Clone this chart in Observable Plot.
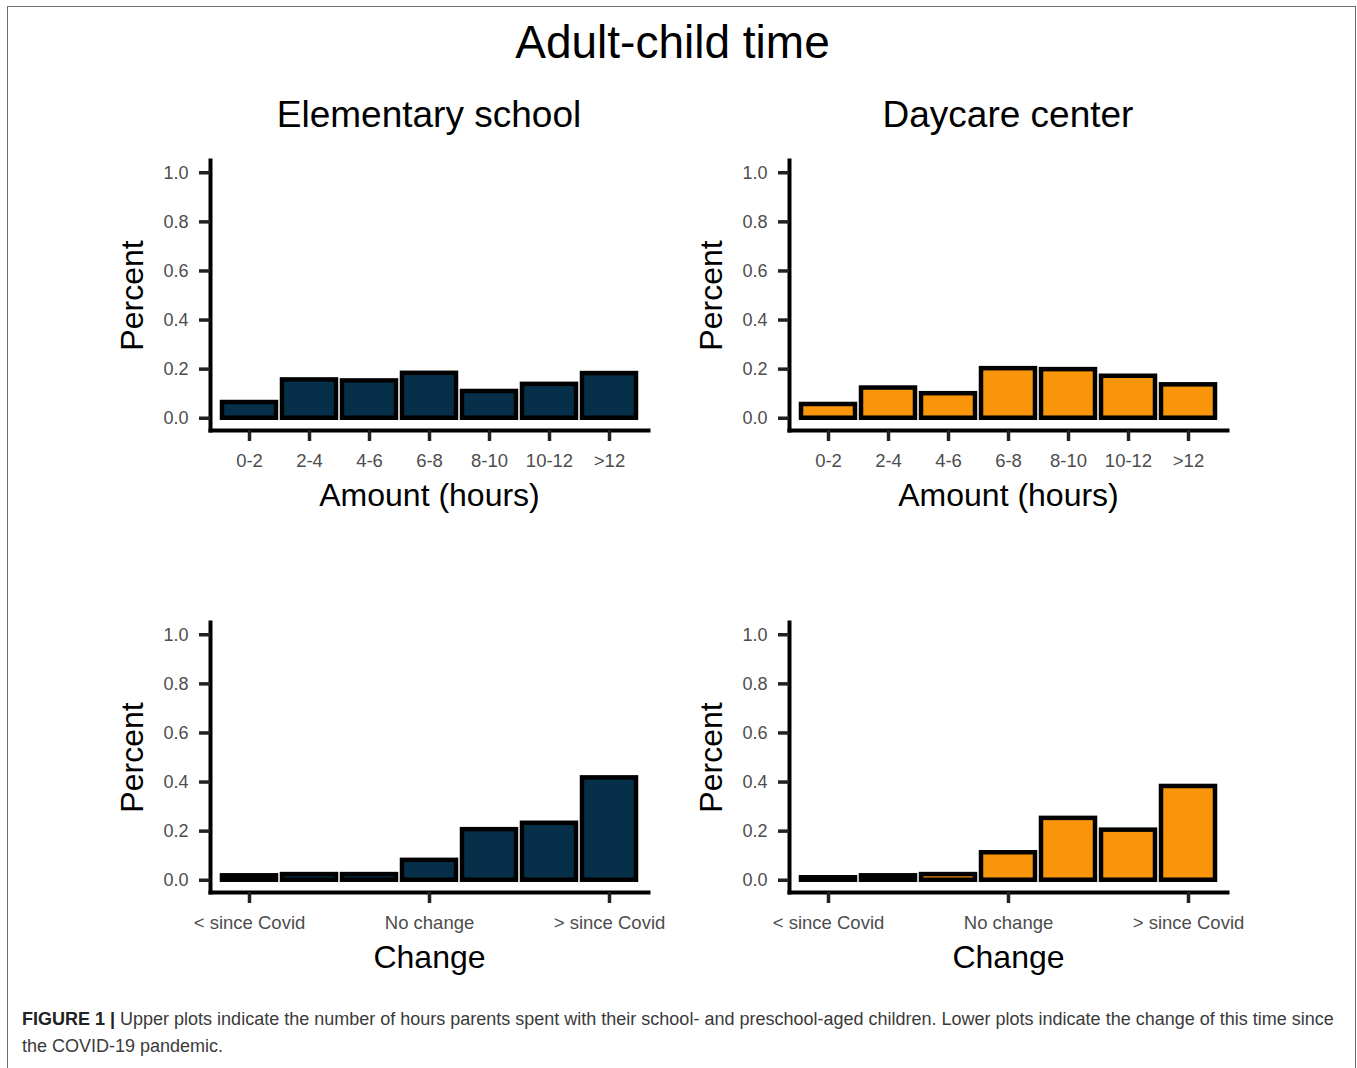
<!DOCTYPE html>
<html>
<head>
<meta charset="utf-8">
<script src="https://cdn.jsdelivr.net/npm/d3@7"></script>
<script src="https://cdn.jsdelivr.net/npm/@observablehq/plot@0.6"></script>
<style>
  html, body { margin: 0; padding: 0; background: #fff; overflow: hidden; }
  #root { position: relative; width: 1357px; height: 1068px; font-family: "Liberation Sans", Arial, Helvetica, sans-serif; }
  .border { position: absolute; left: 7px; top: 6px; width: 1347px; height: 1100px; border: 1.5px solid #6e6e6e; }
  .title { position: absolute; text-align: center; color: #000; white-space: nowrap; }
  .panel { position: absolute; }
  .caption { position: absolute; left: 22px; top: 1006px; width: 1325px; font-size: 18px; line-height: 27px; color: #3a3a3a; }
  .caption b { color: #222; }
</style>
</head>
<body>
<div id="root">
  <div class="border"></div>
  <div class="title" style="left:0;width:1345px;top:19px;font-size:46px;line-height:46px;">Adult-child time</div>
  <div class="title" style="left:129px;width:600px;top:96px;font-size:37px;line-height:37px;">Elementary school</div>
  <div class="title" style="left:708px;width:600px;top:96px;font-size:37px;line-height:37px;">Daycare center</div>
  <div class="panel" id="p1" style="left:100px;top:150px;"></div>
  <div class="panel" id="p2" style="left:680px;top:150px;"></div>
  <div class="panel" id="p3" style="left:100px;top:612px;"></div>
  <div class="panel" id="p4" style="left:680px;top:612px;"></div>
  <div class="caption"><b>FIGURE 1 |</b> Upper plots indicate the number of hours parents spent with their school- and preschool-aged children. Lower plots indicate the change of this time since the COVID-19 pandemic.</div>
</div>
<script>
// ---- data ----
const hourBins = ["0-2", "2-4", "4-6", "6-8", "8-10", "10-12", ">12"];
const elementaryHours = [0.064, 0.156, 0.152, 0.183, 0.109, 0.138, 0.182];
const daycareHours = [0.056, 0.123, 0.100, 0.202, 0.198, 0.171, 0.136];

const changeLevels = ["-3", "-2", "-1", "0", "1", "2", "3"];
const changeTicks = ["-3", "0", "3"];
const changeTickLabels = ["< since Covid", "No change", "> since Covid"];
const elementaryChange = [0.018, 0.023, 0.023, 0.081, 0.206, 0.232, 0.417];
const daycareChange = [0.010, 0.018, 0.023, 0.112, 0.252, 0.204, 0.382];

const yTicks = [0, 0.2, 0.4, 0.6, 0.8, 1.0];
const elementaryColor = "#06304a";
const daycareColor = "#f8950b";

function panel({cats, values, fill, xLabel, ticks, tickFormat, ml, mr}) {
  const data = cats.map((c, i) => ({c, v: values[i]}));
  return Plot.plot({
    width: 570, height: 370,
    marginLeft: ml, marginRight: mr, marginTop: 10, marginBottom: 90,
    style: {fontFamily: "Liberation Sans, Arial, Helvetica, sans-serif", background: "transparent", overflow: "visible"},
    x: {type: "band", domain: cats, paddingInner: 0.1, paddingOuter: 0.15},
    y: {domain: [-0.05, 1.05]},
    marks: [
      Plot.barY(data, {x: "c", y1: 0, y2: "v", fill, stroke: "black", strokeWidth: 4.5}),
      Plot.frame({anchor: "left", stroke: "black", strokeWidth: 4, strokeLinecap: "square"}),
      Plot.frame({anchor: "bottom", stroke: "black", strokeWidth: 4, strokeLinecap: "square"}),
      Plot.axisY({ticks: yTicks, tickFormat: d3.format(".1f"), tickSize: 11, tickPadding: 11,
        fontSize: 18, fill: "#4d4d4d", stroke: "#222", strokeWidth: 3.5, label: null}),
      Plot.axisX({ticks, tickFormat, tickSize: 11, tickPadding: 12,
        fontSize: 18.5, fill: "#4d4d4d", stroke: "#222", strokeWidth: 3.5, label: null}),
      Plot.text([xLabel], {text: d => d, frameAnchor: "bottom", lineAnchor: "middle", textAnchor: "middle",
        dy: 65, fontSize: 32, fill: "black"}),
      Plot.text(["Percent"], {text: d => d, frameAnchor: "left", lineAnchor: "middle", textAnchor: "middle",
        dx: -78, rotate: -90, fontSize: 32, fill: "black"})
    ]
  });
}

const changeFmt = d => changeTickLabels[changeTicks.indexOf(d)];

document.getElementById("p1").append(panel({cats: hourBins, values: elementaryHours, fill: elementaryColor,
  xLabel: "Amount (hours)", ticks: hourBins, tickFormat: d => d, ml: 110, mr: 22}));
document.getElementById("p2").append(panel({cats: hourBins, values: daycareHours, fill: daycareColor,
  xLabel: "Amount (hours)", ticks: hourBins, tickFormat: d => d, ml: 109, mr: 23}));
document.getElementById("p3").append(panel({cats: changeLevels, values: elementaryChange, fill: elementaryColor,
  xLabel: "Change", ticks: changeTicks, tickFormat: changeFmt, ml: 110, mr: 22}));
document.getElementById("p4").append(panel({cats: changeLevels, values: daycareChange, fill: daycareColor,
  xLabel: "Change", ticks: changeTicks, tickFormat: changeFmt, ml: 109, mr: 23}));
</script>
</body>
</html>
